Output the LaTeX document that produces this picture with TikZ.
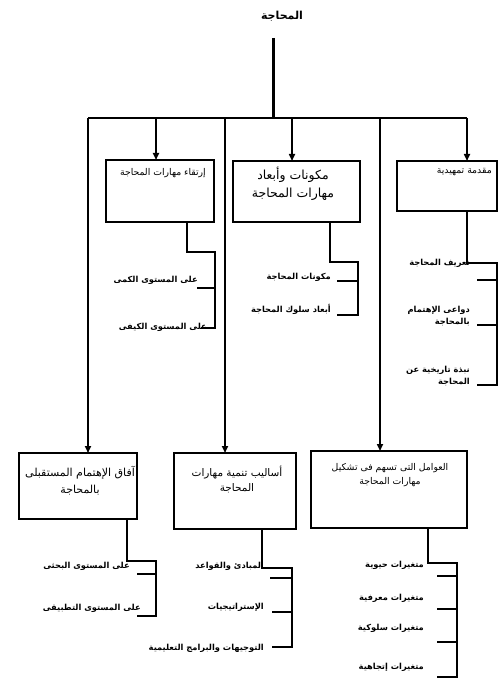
\documentclass[tikz,border=0pt]{standalone}
\usepackage{fontspec}
\newfontfamily\ar[Script=Arabic]{DejaVu Sans}
\TeXXeTstate=1
\usetikzlibrary{arrows.meta}
\begin{document}
\begin{tikzpicture}[x=1pt,y=-1pt]
\tikzset{
 boxframe/.style={draw, line width=1.6pt, inner sep=0pt, outer sep=0pt},
 conn/.style={line width=1.6pt},
 thick conn/.style={line width=3pt},
 arr/.style={conn, -{Triangle[length=7pt,width=6pt]}},
 lbl/.style={font=\ar\bfseries\fontsize{8.3}{11.5}\selectfont, anchor=east, inner sep=0pt, align=right},
 btxt/.style={font=\ar\fontsize{9.3}{14}\selectfont, inner sep=0pt, align=center},
 bigtxt/.style={font=\ar\fontsize{11}{17}\selectfont, inner sep=0pt, align=center},
}
\useasboundingbox[fill=white] (0,0) rectangle (500,700);

% title and trunk
\node[font=\ar\bfseries\fontsize{11}{13}\selectfont, inner sep=0pt] (title) at (282,16) {\beginR المحاجة\endR};
\coordinate (top) at (273,38);
\coordinate (hub) at (273,118);
\draw[thick conn] (top) -- (hub);
\coordinate (hl) at (88,118);
\coordinate (hr) at (467,118);
\draw[conn] (hl) -- (hr);

% boxes
\node[boxframe, minimum width=108pt, minimum height=62pt] (b1) at (160,191) {};
\node[boxframe, minimum width=127pt, minimum height=61pt] (b2) at (296.5,191.5) {};
\node[boxframe, minimum width=100pt, minimum height=50pt] (b3) at (447,186) {};
\node[boxframe, minimum width=118pt, minimum height=66pt] (b4) at (78,486) {};
\node[boxframe, minimum width=122pt, minimum height=76pt] (b5) at (235,491) {};
\node[boxframe, minimum width=156pt, minimum height=77pt] (b6) at (389,489.5) {};

% box texts
\node[btxt, anchor=east] (t1) at (206,173) {\beginR إرتقاء مهارات المحاجة\endR};
\node[bigtxt, font=\ar\fontsize{12.5}{18}\selectfont] (t2) at (293,184) {\beginR مكونات وأبعاد\endR\\\beginR مهارات المحاجة\endR};
\node[btxt, anchor=east] (t3) at (492,172) {\beginR مقدمة تمهيدية\endR};
\node[bigtxt] (t4) at (80,481) {\beginR آفاق الإهتمام المستقبلى\endR\\\beginR بالمحاجة\endR};
\node[btxt, font=\ar\fontsize{10.5}{15}\selectfont] (t5) at (237,480) {\beginR أساليب تنمية مهارات\endR\\\beginR المحاجة\endR};
\node[btxt] (t6) at (390,475) {\beginR العوامل التى تسهم فى تشكيل\endR\\\beginR مهارات المحاجة\endR};

% arrows from the main line
\coordinate (a1) at (156,118);
\coordinate (a2) at (292,118);
\coordinate (a3) at (467,118);
\coordinate (a4) at (88,118);
\coordinate (a5) at (225,118);
\coordinate (a6) at (380,118);
\draw[arr] (a1) -- (a1 |- b1.north);
\draw[arr] (a2) -- (a2 |- b2.north);
\draw[arr] (a3) -- (a3 |- b3.north);
\draw[arr] (a4) -- (a4 |- b4.north);
\draw[arr] (a5) -- (a5 |- b5.north);
\draw[arr] (a6) -- (a6 |- b6.north);

% bracket b1
\coordinate (k1s) at (187,222);
\coordinate (k1c) at (215,252);
\coordinate (k1e) at (215,328);
\coordinate (k1f) at (201,328);
\coordinate (k1g) at (197,288);
\coordinate (k1h) at (215,288);
\draw[conn] (k1s) |- (k1c) -- (k1e) -- (k1f);
\draw[conn] (k1g) -- (k1h);
\node[lbl] (l11) at (198,280) {\beginR على المستوى الكمى\endR};
\node[lbl] (l12) at (207,327) {\beginR على المستوى الكيفى\endR};

% bracket b2
\coordinate (k2s) at (330,222);
\coordinate (k2c) at (358,262);
\coordinate (k2e) at (358,315);
\coordinate (k2f) at (337,315);
\coordinate (k2g) at (337,281);
\coordinate (k2h) at (358,281);
\draw[conn] (k2s) |- (k2c) -- (k2e) -- (k2f);
\draw[conn] (k2g) -- (k2h);
\node[lbl] (l21) at (331,277) {\beginR مكونات المحاجة\endR};
\node[lbl] (l22) at (331,309) {\beginR أبعاد سلوك المحاجة\endR};

% bracket b3
\coordinate (k3s) at (467,211);
\coordinate (k3c) at (497,263);
\coordinate (k3e) at (497,385);
\coordinate (k3f) at (477,385);
\coordinate (k3g) at (477,280);
\coordinate (k3h) at (497,280);
\coordinate (k3i) at (477,325);
\coordinate (k3j) at (497,325);
\draw[conn] (k3s) |- (k3c) -- (k3e) -- (k3f);
\draw[conn] (k3g) -- (k3h);
\draw[conn] (k3i) -- (k3j);
\node[lbl] (l31) at (470,263) {\beginR تعريف المحاجة\endR};
\node[lbl] (l32) at (470,316) {\beginR دواعى الإهتمام\endR\\\beginR بالمحاجة\endR};
\node[lbl] (l33) at (470,376) {\beginR نبذة تاريخية عن\endR\\\beginR المحاجة\endR};

% bracket b4
\coordinate (k4s) at (127,519);
\coordinate (k4c) at (156,561);
\coordinate (k4e) at (156,616);
\coordinate (k4f) at (137,616);
\coordinate (k4g) at (137,574);
\coordinate (k4h) at (156,574);
\draw[conn] (k4s) |- (k4c) -- (k4e) -- (k4f);
\draw[conn] (k4g) -- (k4h);
\node[lbl] (l41) at (130,566) {\beginR على المستوى البحثى\endR};
\node[lbl] (l42) at (141,608) {\beginR على المستوى التطبيقى\endR};

% bracket b5
\coordinate (k5s) at (262,529);
\coordinate (k5c) at (292,568);
\coordinate (k5e) at (292,647);
\coordinate (k5f) at (272,647);
\coordinate (k5g) at (270,578);
\coordinate (k5h) at (292,578);
\coordinate (k5i) at (272,612);
\coordinate (k5j) at (292,612);
\draw[conn] (k5s) |- (k5c) -- (k5e) -- (k5f);
\draw[conn] (k5g) -- (k5h);
\draw[conn] (k5i) -- (k5j);
\node[lbl] (l51) at (264,566) {\beginR المبادئ والقواعد\endR};
\node[lbl] (l52) at (264,607) {\beginR الإستراتيجيات\endR};
\node[lbl] (l53) at (264,648) {\beginR التوجيهات والبرامج التعليمية\endR};

% bracket b6
\coordinate (k6s) at (428,528);
\coordinate (k6c) at (457,563);
\coordinate (k6e) at (457,677);
\coordinate (k6f) at (437,677);
\coordinate (k6g) at (437,576);
\coordinate (k6h) at (457,576);
\coordinate (k6i) at (437,609);
\coordinate (k6j) at (457,609);
\coordinate (k6k) at (437,642);
\coordinate (k6l) at (457,642);
\draw[conn] (k6s) |- (k6c) -- (k6e) -- (k6f);
\draw[conn] (k6g) -- (k6h);
\draw[conn] (k6i) -- (k6j);
\draw[conn] (k6k) -- (k6l);
\node[lbl] (l61) at (424,565) {\beginR متغيرات حيوية\endR};
\node[lbl] (l62) at (424,598) {\beginR متغيرات معرفية\endR};
\node[lbl] (l63) at (424,628) {\beginR متغيرات سلوكية\endR};
\node[lbl] (l64) at (424,667) {\beginR متغيرات إتجاهية\endR};
\end{tikzpicture}
\end{document}
